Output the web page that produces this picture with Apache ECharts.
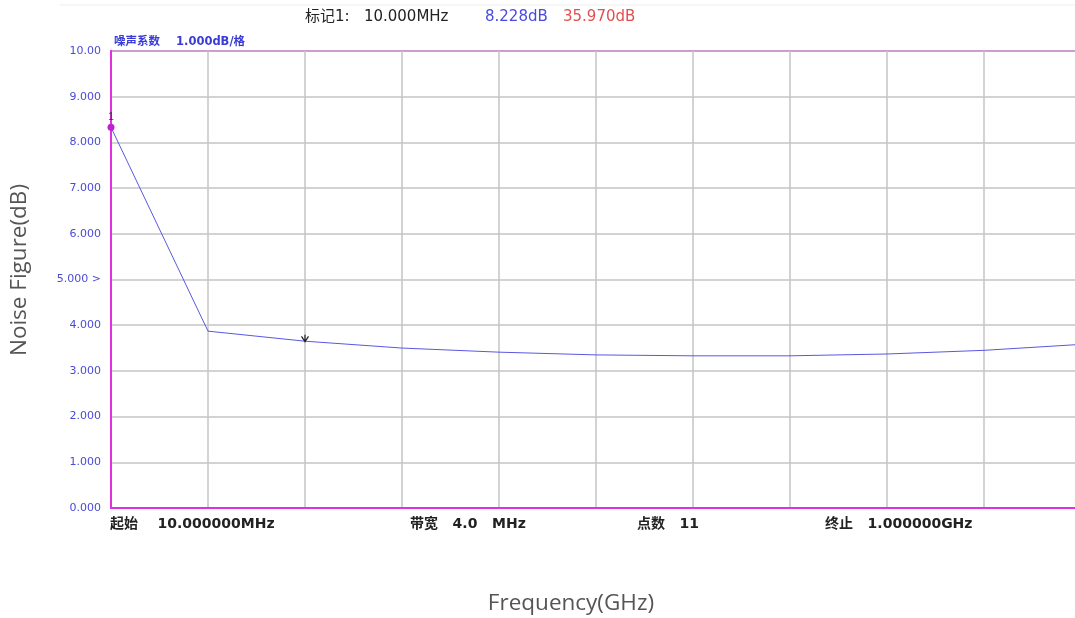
<!DOCTYPE html>
<html><head><meta charset="utf-8">
<script src="https://cdn.jsdelivr.net/npm/echarts@6/dist/echarts.min.js"></script>
<style>html,body{margin:0;padding:0;background:#fff}#c{width:1075px;height:618px}</style>
</head><body><div id="c"></div>
<script>
const freqsMHz = [10, 109, 208, 307, 406, 505, 604, 703, 802, 901, 1000];
const noiseFigure = [8.33, 3.87, 3.65, 3.50, 3.41, 3.35, 3.33, 3.33, 3.37, 3.45, 3.58];
const yTickLabels = ['0.000','1.000','2.000','3.000','4.000','5.000 >','6.000','7.000','8.000','9.000','10.00'];

const chart = echarts.init(document.getElementById('c'));
const cjk = '"DejaVu Sans", "Noto Sans CJK SC", sans-serif';
chart.setOption({
  animation: false,
  grid: {left: 111, width: 970, top: 51, height: 457, show: true, borderColor: '#e030e0', borderWidth: 2,
         outerBoundsMode: 'none', containLabel: false},
  xAxis: {
    type: 'category', data: freqsMHz, boundaryGap: false,
    axisLine: {show: true, lineStyle: {color: '#e030e0', width: 2}},
    axisTick: {show: false}, axisLabel: {show: false},
    splitLine: {show: true, lineStyle: {color: '#c4c4c4', width: 1.5}}
  },
  yAxis: {
    type: 'value', min: 0, max: 10, interval: 1,
    axisLine: {show: true, lineStyle: {color: '#e030e0', width: 2}},
    axisTick: {show: false},
    axisLabel: {color: '#4a4ad8', fontSize: 11, fontFamily: '"DejaVu Sans", sans-serif', margin: 10,
      formatter: v => yTickLabels[Math.round(v)]},
    splitLine: {show: true, lineStyle: {color: '#c4c4c4', width: 1.5}}
  },
  series: [{
    type: 'line', data: noiseFigure, symbol: 'none',
    lineStyle: {color: '#5858e0', width: 1},
    markPoint: {
      data: [
        {coord: [0, noiseFigure[0]], symbol: 'circle', symbolSize: 7, itemStyle: {color: '#c020d0'},
         label: {show: true, formatter: '1', position: 'top', distance: 2, color: '#333', fontSize: 10}},
        {coord: [2, noiseFigure[2]], symbol: 'path://M0,0 L5,6 L10,0 M5,6 L5,-2', symbolSize: [7, 7], symbolOffset: [0, -3],
         itemStyle: {color: 'none', borderColor: '#222', borderWidth: 1.2}, label: {show: false}}
      ]
    }
  }],
  graphic: [
    {type: 'text', x: 20, y: 270, rotation: Math.PI / 2,
     style: {text: 'Noise Figure(dB)', fill: '#555', fontSize: 22.5, fontFamily: '"Open Sans", sans-serif', align: 'center', verticalAlign: 'middle'}},
    {type: 'text', x: 571, y: 604,
     style: {text: 'Frequency(GHz)', fill: '#555', fontSize: 22.5, fontFamily: '"Open Sans", sans-serif', align: 'center', verticalAlign: 'middle'}},
    {type: 'text', left: 305, top: 10, style: {text: '标记1:   10.000MHz', fill: '#222', fontSize: 15, fontFamily: cjk}},
    {type: 'text', left: 485, top: 10, style: {text: '8.228dB', fill: '#4a4ae0', fontSize: 15, fontFamily: cjk}},
    {type: 'text', left: 563, top: 10, style: {text: '35.970dB', fill: '#e05050', fontSize: 15, fontFamily: cjk}},
    {type: 'text', left: 114, top: 36, style: {text: '噪声系数    1.000dB/格', fill: '#3a3ad8', fontSize: 11.5, fontWeight: 'bold', fontFamily: cjk}},
    {type: 'text', left: 110, top: 517, style: {text: '起始    10.000000MHz', fill: '#222', fontSize: 14, fontWeight: 'bold', fontFamily: cjk}},
    {type: 'text', left: 410, top: 517, style: {text: '带宽   4.0   MHz', fill: '#222', fontSize: 14, fontWeight: 'bold', fontFamily: cjk}},
    {type: 'text', left: 637, top: 517, style: {text: '点数   11', fill: '#222', fontSize: 14, fontWeight: 'bold', fontFamily: cjk}},
    {type: 'text', left: 825, top: 517, style: {text: '终止   1.000000GHz', fill: '#222', fontSize: 14, fontWeight: 'bold', fontFamily: cjk}},
    {type: 'line', shape: {x1: 60, y1: 5, x2: 1075, y2: 5}, style: {stroke: '#eee', lineWidth: 1}}
  ]
});
</script></body></html>
